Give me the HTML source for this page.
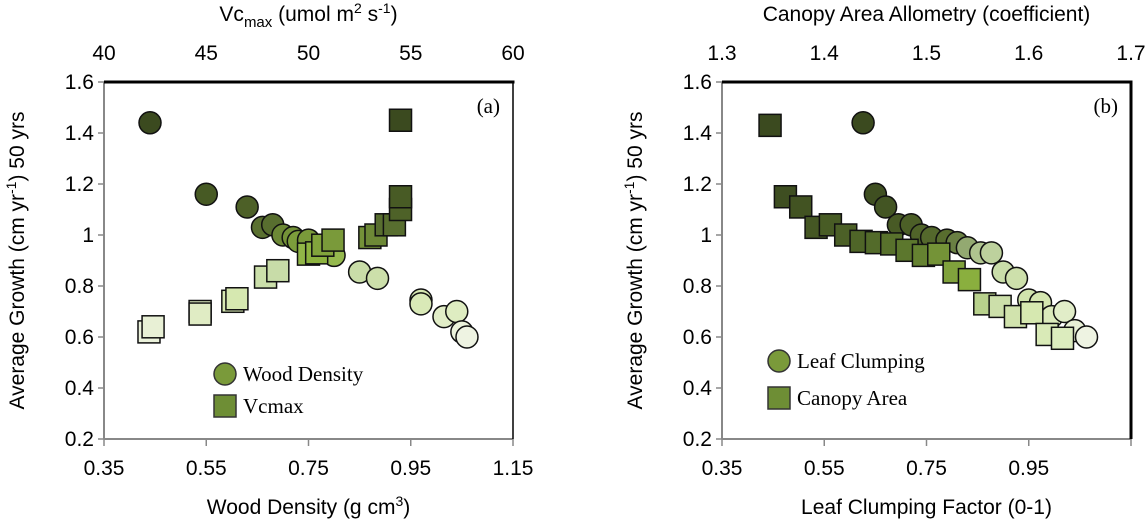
<!DOCTYPE html>
<html><head><meta charset="utf-8"><style>
html,body{margin:0;padding:0;background:#fff;}
svg{display:block;}
.t{font-family:"Liberation Sans",Arial,sans-serif;font-size:21px;fill:#000;}
.s{font-family:"Liberation Serif","Times New Roman",serif;font-size:21px;fill:#000;}
</style></head><body>
<svg id="chart" width="1147" height="521" viewBox="0 0 1147 521" xmlns="http://www.w3.org/2000/svg"></svg>
<script>
// Panel (a) data
const woodX = [0.44,0.55,0.63,0.66,0.68,0.70,0.72,0.73,0.75,0.80,0.85,0.885,0.97,0.97,1.015,1.04,1.05,1.06];
const woodY = [1.44,1.16,1.11,1.03,1.04,1.00,0.99,0.975,0.98,0.92,0.855,0.83,0.745,0.73,0.68,0.70,0.62,0.60];
const vcX = [42.2,42.4,44.7,44.7,46.3,46.5,47.9,48.5,50.0,50.4,50.7,51.2,53.0,53.3,53.8,54.2,54.5,54.5,54.5];
const vcY = [0.62,0.64,0.70,0.69,0.74,0.75,0.835,0.86,0.925,0.93,0.96,0.98,0.99,1.0,1.04,1.04,1.10,1.15,1.45];
// Panel (b) data
const clumpX = [0.626,0.65,0.67,0.695,0.72,0.74,0.76,0.79,0.81,0.83,0.856,0.877,0.90,0.926,0.95,0.973,0.995,1.02,1.04,1.063];
const clumpY = [1.44,1.16,1.11,1.04,1.04,1.00,0.99,0.98,0.97,0.95,0.93,0.93,0.855,0.83,0.745,0.735,0.68,0.70,0.625,0.60];
const canX = [1.347,1.362,1.377,1.392,1.406,1.421,1.436,1.451,1.466,1.481,1.497,1.512,1.527,1.542,1.557,1.572,1.587,1.603,1.618,1.633];
const canY = [1.43,1.15,1.11,1.03,1.04,1.00,0.975,0.97,0.965,0.94,0.92,0.925,0.855,0.825,0.73,0.72,0.68,0.695,0.61,0.595];
const yTicks = [0.2,0.4,0.6,0.8,1.0,1.2,1.4,1.6];
const yTickLabels = ["0.2","0.4","0.6","0.8","1","1.2","1.4","1.6"];
const botTicks = [0.35,0.55,0.75,0.95,1.15];
const botTickLabelsA = ["0.35","0.55","0.75","0.95","1.15"];
const botTickLabelsB = ["0.35","0.55","0.75","0.95",""];
const vcTicks = [40,45,50,55,60];
const canTicks = [1.3,1.4,1.5,1.6,1.7];
const canTickLabels = ["1.3","1.4","1.5","1.6","1.7"];

const svg = document.getElementById('chart');
const NS = 'http://www.w3.org/2000/svg';
function mk(tag, attrs, parent){const e=document.createElementNS(NS,tag);for(const k in attrs)e.setAttribute(k,attrs[k]);(parent||svg).appendChild(e);return e;}
function interp(stops,y){
  if(y<=stops[0][0])return 'rgb('+stops[0][1]+')';
  for(let i=1;i<stops.length;i++){if(y<=stops[i][0]){const a=stops[i-1],b=stops[i];const t=(y-a[0])/(b[0]-a[0]);return 'rgb('+a[1].map((v,j)=>Math.round(v+(b[1][j]-v)*t)).join(',')+')';}}
  return 'rgb('+stops[stops.length-1][1]+')';
}
function colorFor(y){
  return interp([[0.6,[238,243,226]],[0.75,[214,232,176]],[0.86,[200,220,168]],[0.93,[141,179,63]],[0.98,[122,154,58]],[1.03,[90,112,48]],[1.12,[75,94,38]],[1.3,[59,74,31]]],y);
}
function colorIdxCircle(f){
  return interp([[0,[59,74,31]],[0.2,[75,94,38]],[0.4,[90,112,48]],[0.5,[168,189,136]],[0.62,[200,220,168]],[0.8,[214,232,176]],[1,[238,243,226]]],f);
}
function colorIdxSquare(f){
  return interp([[0,[59,74,31]],[0.3,[78,99,40]],[0.5,[94,122,46]],[0.6,[122,154,58]],[0.7,[141,179,63]],[0.75,[200,220,168]],[0.9,[214,232,176]],[1,[220,236,190]]],f);
}
function panel(o){
  const L=o.left,R=o.left+409,T=82,B=439;
  const sy=v=>B-(v-0.2)/1.4*(B-T);
  const sxB=v=>L+(v-0.35)/0.8*(R-L);
  const sxT=v=>L+(v-o.tmin)/(o.tmax-o.tmin)*(R-L);
  const g=mk('g',{});
  
  
  mk('rect',{x:L,y:T,width:R-L,height:B-T,fill:'#fff'},g);
  const ya=mk('line',{x1:L,y1:T,x2:L,y2:B,stroke:'#888','stroke-width':2},g);
  
  yTicks.forEach((v,i)=>{
    mk('line',{x1:L-6,y1:sy(v),x2:L,y2:sy(v),stroke:'#888','stroke-width':1.5},g);
    const t=mk('text',{x:L-10,y:sy(v)+7,'text-anchor':'end',class:'t'},g);t.textContent=yTickLabels[i];
    
  });
  const xa=mk('line',{x1:L,y1:B,x2:R,y2:B,stroke:'#888','stroke-width':2},g);
  
  botTicks.forEach((v,i)=>{
    mk('line',{x1:sxB(v),y1:B,x2:sxB(v),y2:B+7,stroke:'#888','stroke-width':1.5},g);
    const t=mk('text',{x:sxB(v),y:B+36,'text-anchor':'middle',class:'t'},g);t.textContent=o.botLabels[i];
    
  });
  o.topTicks.forEach((v,i)=>{
    const t=mk('text',{x:sxT(v),y:60,'text-anchor':'middle',class:'t'},g);t.textContent=o.topLabels[i];
    
  });
  mk('line',{x1:L,y1:T,x2:R+1.5,y2:T,stroke:'#000','stroke-width':3},g);
  mk('line',{x1:R,y1:T,x2:R,y2:B,stroke:'#000','stroke-width':o.rw},g);
  const nc=o.cx.length, nq=o.qx.length;
  o.cx.forEach((v,i)=>{
    const fill=o.idxColor?colorIdxCircle(i/(nc-1)):colorFor(o.cy[i]);
    const c=mk('circle',{cx:sxB(v),cy:sy(o.cy[i]),r:11,fill:fill,stroke:'#111','stroke-width':1.5},g);
    
  });
  o.qx.forEach((v,i)=>{
    const fill=o.idxColor?colorIdxSquare(i/(nq-1)):colorFor(o.qy[i]);
    const s=mk('rect',{x:sxT(v)-11,y:sy(o.qy[i])-11,width:22,height:22,fill:fill,stroke:'#111','stroke-width':1.5},g);
    
  });
  const lbl=mk('text',{x:R-13,y:113,'text-anchor':'end',class:'s'},g);lbl.textContent=o.label;
  
  const lg=mk('g',{},g);
  const lc=mk('circle',{cx:o.lx,cy:o.ly1,r:11,fill:'#7a9a3a',stroke:'#333','stroke-width':1.5},lg);
  
  const lt1=mk('text',{x:o.lx+18,y:o.ly1+7,class:'s'},lg);lt1.textContent=o.l1;
  
  const ls=mk('rect',{x:o.lx-11,y:o.ly2-11,width:22,height:22,fill:'#6e8e35',stroke:'#333','stroke-width':1.5},lg);
  
  const lt2=mk('text',{x:o.lx+18,y:o.ly2+7,class:'s'},lg);lt2.textContent=o.l2;
  
  const yt=mk('text',{x:0,y:0,'text-anchor':'middle',class:'t',transform:'translate('+(L-80)+','+((T+B)/2)+') rotate(-90)'},g);
  yt.innerHTML='Average Growth (cm yr<tspan dy="-8" font-size="14">-1</tspan><tspan dy="8">) 50 yrs</tspan>';
  
  const xt=mk('text',{x:(L+R)/2,y:514,'text-anchor':'middle',class:'t'},g);xt.innerHTML=o.xTitle;
  
  const tt=mk('text',{x:(L+R)/2,y:21,'text-anchor':'middle',class:'t'},g);tt.innerHTML=o.tTitle;
  
}
panel({name:'panel-a',left:104,tmin:40,tmax:60,rw:1.5,idxColor:false,botLabels:botTickLabelsA,topTicks:vcTicks,topLabels:vcTicks.map(String),
  cx:woodX,cy:woodY,qx:vcX,qy:vcY,cname:'wood-density-point',qname:'vcmax-point',label:'(a)',
  lx:225,ly1:374,ly2:406,l1:'Wood Density',l2:'Vcmax',
  xTitle:'Wood Density (g cm<tspan dy="-8" font-size="14">3</tspan><tspan dy="8">)</tspan>',
  tTitle:'Vc<tspan dy="6" font-size="15">max</tspan><tspan dy="-6"> (umol m</tspan><tspan dy="-8" font-size="14">2</tspan><tspan dy="8"> s</tspan><tspan dy="-8" font-size="14">-1</tspan><tspan dy="8">)</tspan>'});
panel({name:'panel-b',left:722,tmin:1.3,tmax:1.7,rw:3,idxColor:true,botLabels:botTickLabelsB,topTicks:canTicks,topLabels:canTickLabels,
  cx:clumpX,cy:clumpY,qx:canX,qy:canY,cname:'leaf-clumping-point',qname:'canopy-area-point',label:'(b)',
  lx:779,ly1:361,ly2:398,l1:'Leaf Clumping',l2:'Canopy Area',
  xTitle:'Leaf Clumping Factor (0-1)',tTitle:'Canopy Area Allometry (coefficient)'});
</script>
</body></html>
